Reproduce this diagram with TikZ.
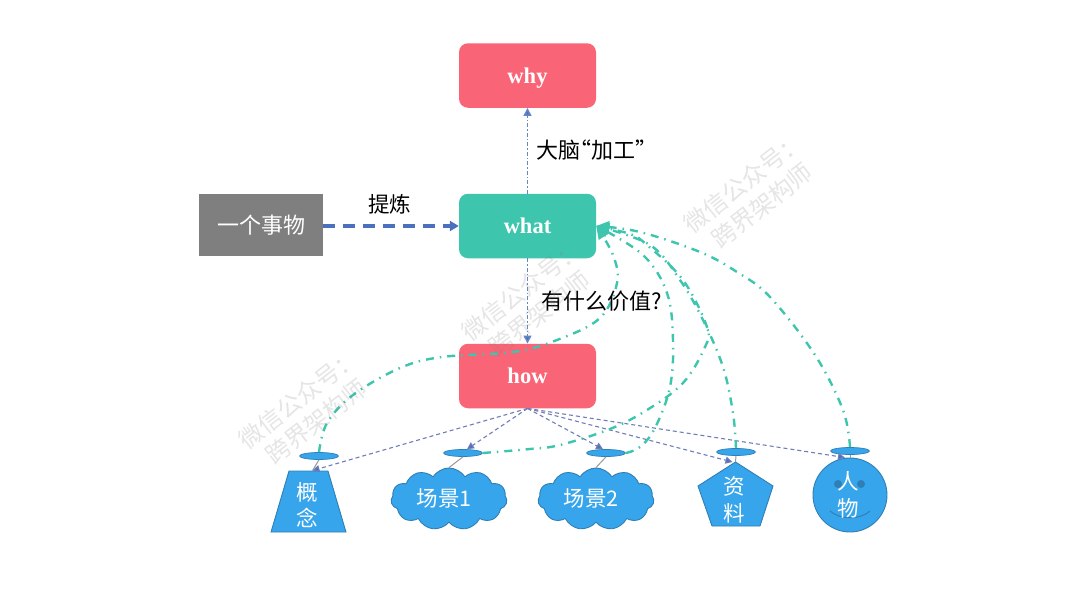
\documentclass[tikz,border=0pt]{standalone}
\usepackage{fontspec}
\setmainfont{Liberation Serif}
\newfontfamily\cjk{Noto Sans CJK SC}
\usetikzlibrary{shapes.geometric,shapes.symbols,arrows.meta}
\definecolor{redbox}{HTML}{F96477}
\definecolor{greenbox}{HTML}{3DC5AE}
\definecolor{graybox}{HTML}{7F7F7F}
\definecolor{bluefill}{HTML}{36A5EC}
\definecolor{blueedge}{HTML}{2F7FB5}
\definecolor{arrowblue}{HTML}{4A70BE}
\definecolor{linkblue}{HTML}{6F7DB8}
\tikzset{
  wbox/.style={rounded corners=9pt,minimum width=137pt,minimum height=64.5pt,inner sep=0pt,text=white,text height=15pt,text depth=0pt,font=\fontsize{22.5}{24}\selectfont\bfseries},
  lbl/.style={font=\cjk\fontsize{22}{26}\selectfont,text=black,inner sep=0pt},
  shapetext/.style={font=\cjk\fontsize{21.5}{26.5}\selectfont,text=white,inner sep=0pt,align=center},
  blueshape/.style={draw=blueedge,fill=bluefill,line width=0.9pt,inner sep=0pt},
  handle/.style={ellipse,draw=blueedge,fill=bluefill,line width=0.7pt,minimum width=39pt,minimum height=7pt,inner sep=0pt},
  stem/.style={draw=gray!80,line width=1pt},
  vlink/.style={draw=arrowblue!85,line width=1.5pt,dash pattern=on 4pt off 2pt on 1.5pt off 2pt,-{Triangle[length=8pt,width=8pt,fill=arrowblue]}},
  hlink/.style={draw=linkblue,line width=1.1pt,dash pattern=on 4pt off 3pt,-{Triangle[length=7pt,width=7pt,fill=arrowblue]}},
  glink/.style={draw=greenbox,line width=2.4pt,dash pattern=on 8pt off 6pt on 1.5pt off 6pt,-{Triangle[length=13pt,width=11pt]}},
  wmark/.style={font=\cjk\fontsize{24}{29}\selectfont,text=gray,text opacity=0.2,rotate=38,align=center,inner sep=0pt},
}
\begin{document}
\begin{tikzpicture}[x=1pt,y=-1pt]
\useasboundingbox (0,0) rectangle (1080,608);
\fill[white] (0,0) rectangle (1080,608);
% main boxes
\node[wbox,fill=redbox] (why) at (527.5,75.5) {why};
\node[wbox,fill=greenbox] (what) at (527.5,226) {what};
\node[wbox,fill=redbox] (how) at (527.5,376) {how};
\node[fill=graybox,minimum width=124pt,minimum height=62pt,inner sep=0pt,text=white,font=\cjk\fontsize{22}{26}\selectfont] (thing) at (261,225) {一个事物};
% shapes
\node[blueshape,trapezium,trapezium left angle=77,trapezium right angle=77,minimum width=75pt,minimum height=61pt,trapezium stretches=true] (concept) at (308.5,501.5) {\rule{0pt}{10pt}\phantom{x}};
\node[blueshape,cloud,cloud puffs=11,cloud puff arc=115,aspect=1.9,minimum width=116pt,minimum height=62pt] (cloudA) at (449,499) {\rule{0pt}{10pt}\phantom{x}};
\node[blueshape,cloud,cloud puffs=11,cloud puff arc=115,aspect=1.9,minimum width=116pt,minimum height=62pt] (cloudB) at (596,499) {\rule{0pt}{10pt}\phantom{x}};
\draw[blueshape] (735.5,462) -- (773,486) -- (760,526) -- (712,526) -- (698,486) -- cycle;
\coordinate (datatop) at (735.5,462);
\node[blueshape,circle,minimum size=74pt] (person) at (850,495) {};
\node[circle,fill=blueedge,minimum size=8pt,inner sep=0pt] (eyeL) at (838,484) {};
\node[circle,fill=blueedge,minimum size=8pt,inner sep=0pt] (eyeR) at (861,484) {};
\coordinate (smileL) at (830,511);
\coordinate (smileR) at (870,511);
\draw[blueedge,line width=1pt] (smileL) .. controls (840,520) and (860,520) .. (smileR);
\node[shapetext] (tc) at (307,505) {概\\念};
\node[shapetext] (ta) at (444,498) {场景1};
\node[shapetext] (tb) at (591,498) {场景2};
\node[shapetext] (td) at (734,500) {资\\料};
\node[shapetext] (tp) at (848,495) {人\\物};
% handles
\node[handle] (h1) at (319,456) {};
\node[handle] (h2) at (463,453) {};
\node[handle] (h3) at (606,453) {};
\node[handle] (h4) at (736,452) {};
\node[handle] (h5) at (850,451) {};
\draw[stem] (h1.south) -- ([xshift=4pt]concept.north);
\draw[stem] (h2.south) -- (cloudA.north);
\draw[stem] (h3.south) -- (cloudB.north);
\draw[stem] (h4.south) -- (datatop);
\draw[stem] (h5.south) -- (person.north);
% links
\draw[vlink] (what.north) -- (why.south);
\draw[vlink] (what.south) -- (how.north);
\draw[draw=arrowblue,line width=3.2pt,dash pattern=on 12pt off 8pt,-{Triangle[length=9pt,width=10pt]}] (thing.east |- what.west) -- (what.west);
\draw[hlink] (how.south) -- ([xshift=4pt]concept.north);
\draw[hlink] (how.south) -- ([xshift=4pt]h2.north);
\draw[hlink] (how.south) -- ([xshift=-3pt]h3.north);
\draw[hlink] (how.south) -- ([xshift=-3pt]datatop);
\draw[hlink] (how.south) -- ([xshift=-5pt]person.north);
% green curves
\draw[glink] plot[smooth,tension=0.6] coordinates {(h1.north) (327,423) (353,395) (400,368) (442,357) (513,352) (557,340) (600,318) (617,283) (613,255) (what.east)};
\draw[glink] plot[smooth,tension=0.6] coordinates {(h2.east) (530,449) (560,445) (610,429) (647,410) (683,383) (705,347) (707,327) (683,280) (647,245) (630,234) (what.east)};
\draw[glink] plot[smooth,tension=0.6] coordinates {(h3.east) (640,447) (655,428) (670,387) (673,340) (667,293) (643,255) (what.east)};
\draw[glink] plot[smooth,tension=0.6] coordinates {(h4.north) (733,413) (723,367) (703,320) (680,280) (650,245) (what.east)};
\draw[glink] plot[smooth,tension=0.6] coordinates {(h5.north) (843,410) (815,355) (770,297) (737,272) (700,252) (640,232) (what.east)};
% labels
\node[lbl,font=\cjk\fontsize{21.5}{26}\selectfont] (l1) at (389.5,204) {提炼};
\node[lbl] (l2) at (596.7,150) {大脑\hspace{-11pt}“加工”\hspace{-11pt}};
\node[lbl] (l3) at (601.7,301) {有什么价值?};
% watermarks
\node[wmark] (m1) at (307.5,410) {微信公众号：\\跨界架构师};
\node[wmark] (m2) at (530.5,302) {微信公众号：\\跨界架构师};
\node[wmark] (m3) at (753,194) {微信公众号：\\跨界架构师};
\end{tikzpicture}
\end{document}
